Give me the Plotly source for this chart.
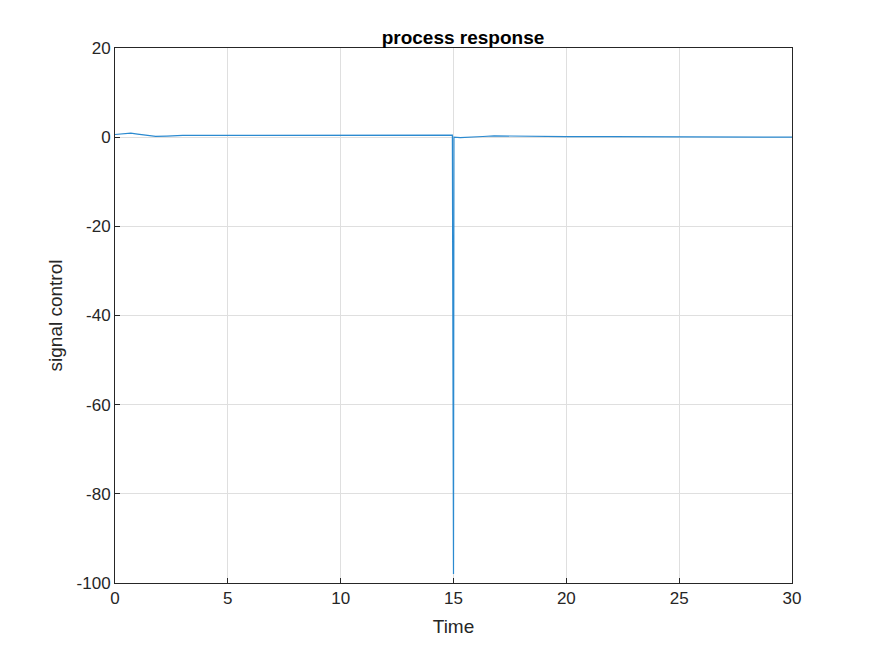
import plotly.graph_objects as go

# values
time = [0, 0.3, 0.7, 1.0, 1.4, 1.8, 2.3, 3.0, 4.0, 6.0, 8.0, 10.0, 12.0, 14.0, 14.95,
        15.0, 15.02, 15.3, 15.8, 16.3, 16.8, 17.5, 18.5, 20.0, 22.0, 25.0, 28.0, 29.5, 30.0]
signal = [0.6, 0.7, 0.9, 0.7, 0.4, 0.2, 0.25, 0.4, 0.4, 0.4, 0.4, 0.4, 0.4, 0.45, 0.45,
          -98.0, 0.0, -0.1, -0.05, 0.15, 0.3, 0.25, 0.1, 0.1, 0.1, 0.1, 0.1, 0.05, 0.0]
y_ticks = [20, 0, -20, -40, -60, -80, -100]
y_labels = ["20", "0", "-20", "-40", "-60", "-80", "-100"]

fig = go.Figure()
fig.add_trace(go.Scatter(x=time, y=signal, mode="lines",
                         line=dict(color="#2B8AD0", width=1.2), showlegend=False))

axis_style = dict(showline=True, linecolor="#262626", linewidth=1, mirror=True,
                  showgrid=True, gridcolor="#DFDFDF", zeroline=False,
                  ticks="inside", ticklen=5, tickcolor="#262626",
                  tickfont=dict(size=17, color="#262626"))

fig.update_xaxes(range=[0, 30], dtick=5, title=dict(text="Time", font=dict(size=19, color="#262626"), standoff=12), **axis_style)
fig.update_yaxes(range=[-100, 20], tickvals=y_ticks, ticktext=y_labels,
                 title=dict(text="signal control", font=dict(size=19, color="#262626"), standoff=8), **axis_style)

fig.update_layout(
    title=dict(text="<b>process response</b>", x=0.52, xanchor="center", y=0.965,
               font=dict(size=19, color="#000000")),
    width=875, height=656,
    margin=dict(l=107, r=91, t=40, b=81),
    paper_bgcolor="white", plot_bgcolor="white",
    font=dict(family="Liberation Sans, Arial, sans-serif"),
)

fig.write_html("out.html")
